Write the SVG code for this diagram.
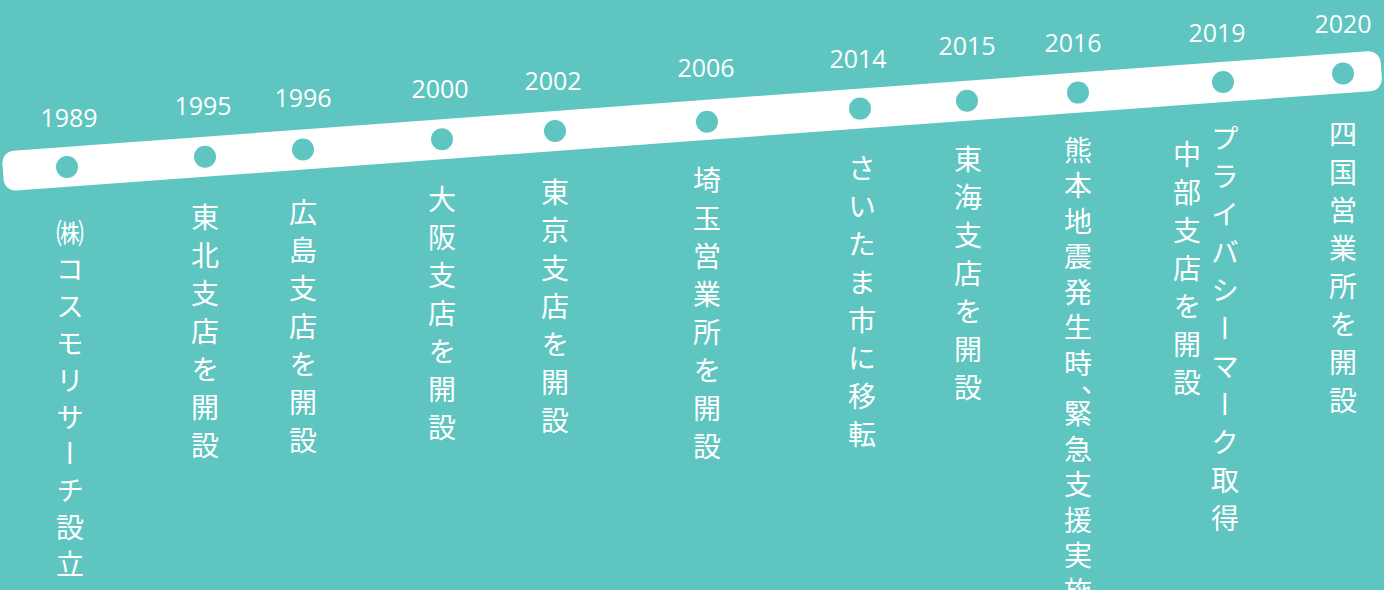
<svg xmlns="http://www.w3.org/2000/svg" width="1384" height="590" viewBox="0 0 1384 590">
<style>
.bg{fill:#5ec5c1}
.band{fill:#ffffff}
.dot{fill:#5ec5c1}
.yr{font-family:"Open Sans","Liberation Sans",sans-serif;font-size:25px;fill:#ffffff;text-anchor:middle}
.lbl{font-family:"Noto Sans CJK JP","Noto Sans",sans-serif;font-size:28px;font-weight:400;fill:#ffffff;writing-mode:vertical-rl;letter-spacing:10px}
.tight{letter-spacing:7.5px}
.first{letter-spacing:8.8px}
</style>
<rect class="bg" x="0" y="0" width="1384" height="590"/>
<g id="connectors">
<rect class="band" x="0" y="-20" width="1382" height="40" rx="12" transform="translate(3,171.5) rotate(-4.198)"/>
</g>
<g id="ev-1989"><circle class="dot" cx="67" cy="167" r="11"/><text class="yr" x="69" y="127">1989</text><text class="lbl first" x="70" y="219">㈱コスモリサーチ設立</text></g>
<g id="ev-1995"><circle class="dot" cx="205" cy="156.7" r="11"/><text class="yr" x="203" y="115">1995</text><text class="lbl" x="205" y="203">東北支店を開設</text></g>
<g id="ev-1996"><circle class="dot" cx="303" cy="149.5" r="11"/><text class="yr" x="303" y="107">1996</text><text class="lbl" x="303" y="198">広島支店を開設</text></g>
<g id="ev-2000"><circle class="dot" cx="442" cy="139.3" r="11"/><text class="yr" x="440" y="98">2000</text><text class="lbl" x="442" y="185">大阪支店を開設</text></g>
<g id="ev-2002"><circle class="dot" cx="555" cy="131" r="11"/><text class="yr" x="553" y="90">2002</text><text class="lbl" x="555" y="178">東京支店を開設</text></g>
<g id="ev-2006"><circle class="dot" cx="707" cy="121.8" r="11"/><text class="yr" x="706" y="77">2006</text><text class="lbl" x="707" y="166">埼玉営業所を開設</text></g>
<g id="ev-2014"><circle class="dot" cx="860" cy="108.6" r="11"/><text class="yr" x="858" y="68">2014</text><text class="lbl" x="862" y="154">さいたま市に移転</text></g>
<g id="ev-2015"><circle class="dot" cx="967" cy="100.7" r="11"/><text class="yr" x="967" y="55">2015</text><text class="lbl" x="968" y="145">東海支店を開設</text></g>
<g id="ev-2016"><circle class="dot" cx="1078" cy="92.6" r="11"/><text class="yr" x="1073" y="52">2016</text><text class="lbl tight" x="1078" y="136">熊本地震発生時<tspan style="letter-spacing:-13px">、</tspan>緊急支援実施</text></g>
<g id="ev-2019"><circle class="dot" cx="1223" cy="82" r="11"/><text class="yr" x="1217" y="42">2019</text><text class="lbl" x="1225" y="124">プライバシーマーク取得</text><text class="lbl" x="1187" y="140">中部支店を開設</text></g>
<g id="ev-2020"><circle class="dot" cx="1343" cy="73.5" r="11"/><text class="yr" x="1343" y="33">2020</text><text class="lbl" x="1343" y="120">四国営業所を開設</text></g>
</svg>
